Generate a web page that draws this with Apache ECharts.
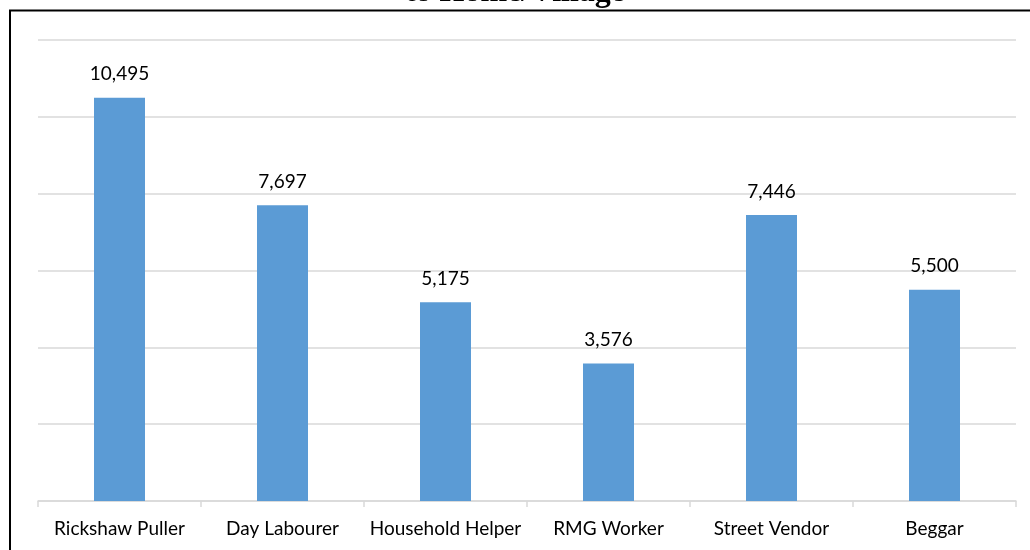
<!DOCTYPE html>
<html>
<head>
<meta charset="utf-8">
<script src="https://cdn.jsdelivr.net/npm/echarts@6/dist/echarts.min.js"></script>
<style>
  html, body { margin: 0; padding: 0; background: #ffffff; }
  #chart { width: 1030px; height: 550px; }
</style>
</head>
<body>
<div id="chart"></div>
<script>
// Occupation groups and their amounts
const categories = ['Rickshaw Puller', 'Day Labourer', 'Household Helper', 'RMG Worker', 'Street Vendor', 'Beggar'];
const values = [10495, 7697, 5175, 3576, 7446, 5500];
const titleText = 'to Home/Village';

const chart = echarts.init(document.getElementById('chart'));
const labelFont = 'Lato, "Open Sans", sans-serif';

chart.setOption({
  animation: false,
  backgroundColor: '#ffffff',
  title: {
    text: titleText,
    left: 'center',
    top: -28,
    textStyle: { fontFamily: '"Liberation Serif", serif', fontWeight: 'bold', fontSize: 32, color: '#000000' }
  },
  grid: { left: 38, right: 14, top: 40, bottom: 49, containLabel: false },
  xAxis: {
    type: 'category',
    data: categories,
    axisLine: { lineStyle: { color: '#d9d9d9', width: 1.5 } },
    axisTick: { show: true, length: 6, lineStyle: { color: '#d9d9d9', width: 1.5 } },
    axisLabel: { interval: 0, color: '#000000', fontFamily: labelFont, fontSize: 19, margin: 18 }
  },
  yAxis: {
    type: 'value',
    min: 0,
    max: 12000,
    interval: 2000,
    axisLine: { show: false },
    axisTick: { show: false },
    axisLabel: { show: false },
    splitLine: { lineStyle: { color: '#d9d9d9', width: 1.5 } }
  },
  series: [{
    type: 'bar',
    data: values,
    barWidth: 51,
    itemStyle: { color: '#5b9bd5' },
    label: {
      show: true,
      position: 'top',
      distance: 14,
      color: '#000000',
      fontFamily: labelFont,
      fontSize: 19,
      formatter: p => p.value.toLocaleString('en-US')
    }
  }],
  graphic: [
    { type: 'line', shape: { x1: 9, y1: 10.5, x2: 1030, y2: 10.5 }, style: { stroke: '#000000', lineWidth: 2 } },
    { type: 'line', shape: { x1: 10, y1: 10, x2: 10, y2: 550 }, style: { stroke: '#000000', lineWidth: 2 } }
  ]
});
</script>
</body>
</html>
